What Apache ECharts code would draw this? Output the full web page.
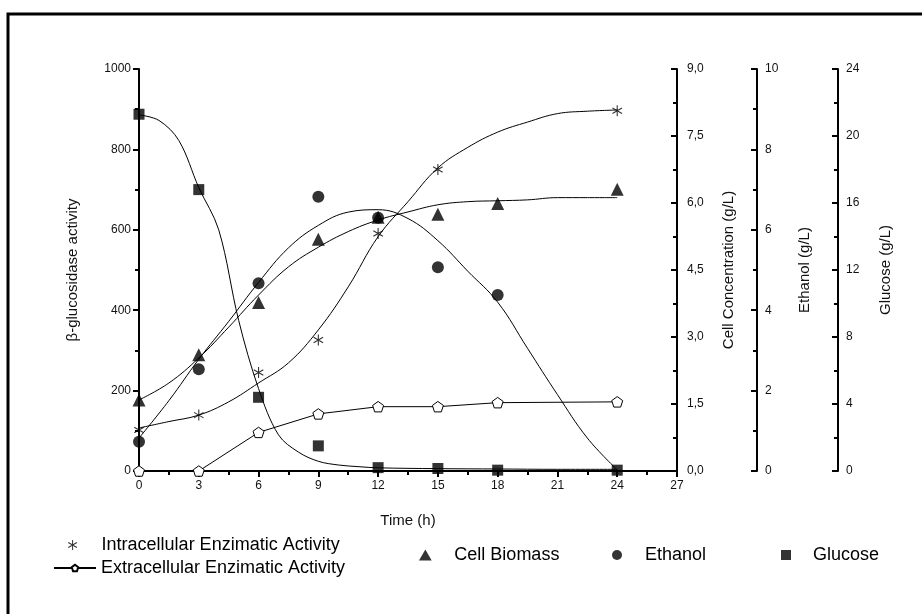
<!DOCTYPE html>
<html>
<head>
<meta charset="utf-8">
<script src="https://cdn.jsdelivr.net/npm/echarts@6/dist/echarts.min.js"></script>
<style>
html,body{margin:0;padding:0;background:#fff;}
#chart{width:922px;height:614px;}
</style>
</head>
<body>
<div id="chart"></div>
<script>
var times = [0, 3, 6, 9, 12, 15, 18, 24];
var intraTimes = [0, 3, 6, 9, 12, 15, 24];
var intracellular = [102, 139, 245, 326, 591, 750, 896];          // beta-glucosidase activity
var extracellular = [0, 0, 96, 142, 160, 160, 170, 172];          // beta-glucosidase activity
var biomass = [1.59, 2.6, 3.77, 5.19, 5.68, 5.75, 5.99, 6.31];    // g/L
var ethanolTimes = [0, 3, 6, 9, 12, 15, 18];
var ethanol = [0.73, 2.53, 4.67, 6.82, 6.3, 5.07, 4.38];          // g/L
var glucose = [21.3, 16.8, 4.4, 1.5, 0.2, 0.15, 0.05, 0.05];      // g/L

// fitted curves drawn in the figure
var fitTimes = [0, 1.5, 3, 4.5, 6, 7.5, 9, 10.5, 12, 13.5, 15, 16.5, 18, 19.5, 21, 22.5, 24];
var intraFit = [107, 123, 139, 172, 219, 269, 351, 458, 583, 670, 754, 805, 843, 868, 889, 895, 898];
var biomassFit = [1.59, 1.97, 2.53, 3.22, 3.94, 4.57, 5.01, 5.36, 5.62, 5.8, 5.96, 6.03, 6.05, 6.07, 6.12, 6.12, 6.12];
var ethanolFit = [0.82, 1.75, 2.78, 3.72, 4.69, 5.55, 6.11, 6.44, 6.5, 6.28, 5.73, 4.97, 4.2, 3.05, 1.9, 0.82, 0.03];
var glucoseFitTimes = [0, 1, 2, 3, 4, 5, 6, 7, 8, 9, 10, 11, 12, 15, 18, 21, 24];
var glucoseFit = [21.26, 20.93, 19.73, 16.92, 14.4, 9.0, 4.92, 2.16, 1.13, 0.58, 0.36, 0.26, 0.19, 0.14, 0.12, 0.1, 0.1];

// axis ticks
var xTicks = {min: 0, max: 27, interval: 3};
var activityTicks = {min: 0, max: 1000, interval: 200};
var cellTicks = {min: 0, max: 9, interval: 1.5};
var ethanolTicks = {min: 0, max: 10, interval: 2};
var glucoseTicks = {min: 0, max: 24, interval: 4};

var names = {
  intra: 'Intracellular Enzimatic Activity',
  extra: 'Extracellular Enzimatic Activity',
  biomass: 'Cell Biomass',
  ethanol: 'Ethanol',
  glucose: 'Glucose'
};

function pairs(t, v) { return t.map(function (x, i) { return [x, v[i]]; }); }

var FONT = 'Liberation Sans, Arial, sans-serif';
var asteriskPath = 'path://M-0.5,-5 L0.5,-5 L0.5,5 L-0.5,5 Z M4.08,-2.933 L4.58,-2.067 L-4.08,2.933 L-4.58,2.067 Z M-4.58,-2.067 L-4.08,-2.933 L4.58,2.067 L4.08,2.933 Z';
var pentagonPath = 'path://M0,-1 L0.951,-0.309 L0.588,0.809 L-0.588,0.809 L-0.951,-0.309 Z';
var triPath = 'path://M0,-1 L1,0.732 L-1,0.732 Z';
var sqPath = 'path://M-1,-1 L1,-1 L1,1 L-1,1 Z';
var circPath = 'path://M-1,0 A1,1 0 1,0 1,0 A1,1 0 1,0 -1,0 Z';

function plainNum(v) { return String(v); }

function yAxisBase(t, extra) {
  var a = {
    type: 'value', min: t.min, max: t.max, interval: t.interval,
    splitLine: {show: false},
    axisLine: {show: true, onZero: false, lineStyle: {color: '#000', width: 2}},
    axisTick: {show: true, length: 6, lineStyle: {color: '#000', width: 2}},
    minorTick: {show: true, splitNumber: 2, length: 4, lineStyle: {color: '#000', width: 2}},
    axisLabel: {color: '#111', fontFamily: FONT, fontSize: 12, margin: 8, formatter: plainNum},
    nameLocation: 'middle', nameRotate: 90,
    nameTextStyle: {color: '#111', fontFamily: FONT, fontSize: 15}
  };
  for (var k in extra) a[k] = extra[k];
  return a;
}

var chart = echarts.init(document.getElementById('chart'), null, {renderer: 'canvas'});
var legendText = {color: '#000', fontFamily: FONT, fontSize: 18};
function leg(name, icon, left, top, w, h) {
  return {data: [{name: name, icon: icon}], left: left, top: top, itemWidth: w, itemHeight: h,
    itemGap: 0, padding: 0, symbolKeepAspect: true, textStyle: legendText, selectedMode: false};
}
var inTick = {show: true, inside: true, length: 6, lineStyle: {color: '#000', width: 2}};

chart.setOption({
  backgroundColor: '#fff',
  animation: false,
  grid: {left: 139, right: 245, top: 69, bottom: 143, containLabel: false},
  graphic: [{
    type: 'rect', silent: true,
    shape: {x: 8, y: 14, width: 1000, height: 700},
    style: {fill: 'none', stroke: '#000', lineWidth: 3}
  }],
  legend: [
    leg(names.intra, asteriskPath, 68, 536, 48, 10),
    {data: [names.extra], left: 53, top: 559, itemWidth: 42, itemHeight: 8, itemGap: 0, padding: 0,
      textStyle: legendText, selectedMode: false},
    leg(names.biomass, triPath, 419, 546, 48, 11),
    leg(names.ethanol, circPath, 612, 546, 46, 10),
    leg(names.glucose, sqPath, 781, 546, 44, 10)
  ],
  xAxis: {
    type: 'value', min: xTicks.min, max: xTicks.max, interval: xTicks.interval,
    name: 'Time (h)', nameLocation: 'middle', nameGap: 42,
    nameTextStyle: {color: '#111', fontFamily: FONT, fontSize: 15},
    splitLine: {show: false},
    axisLine: {show: true, onZero: false, lineStyle: {color: '#000', width: 2}},
    axisTick: {show: true, length: 6, lineStyle: {color: '#000', width: 2}},
    minorTick: {show: true, splitNumber: 2, length: 4, lineStyle: {color: '#000', width: 2}},
    axisLabel: {color: '#111', fontFamily: FONT, fontSize: 12, margin: 9}
  },
  yAxis: [
    yAxisBase(activityTicks, {position: 'left', name: 'β-glucosidase activity', nameGap: 59}),
    yAxisBase(cellTicks, {position: 'right', offset: 0, name: 'Cell Concentration (g/L)', nameGap: 44,
      axisTick: inTick,
      axisLabel: {color: '#111', fontFamily: FONT, fontSize: 12, margin: 10,
        formatter: function (v) { return v.toFixed(1).replace('.', ','); }}}),
    yAxisBase(ethanolTicks, {position: 'right', offset: 80, name: 'Ethanol (g/L)', nameGap: 40,
      axisTick: inTick}),
    yAxisBase(glucoseTicks, {position: 'right', offset: 161, name: 'Glucose (g/L)', nameGap: 40,
      axisTick: inTick})
  ],
  series: [
    // fitted curves
    {type: 'line', yAxisIndex: 0, data: pairs(fitTimes, intraFit), smooth: 0.4, showSymbol: false, symbol: 'none',
      lineStyle: {color: '#000', width: 1}, silent: true, z: 1},
    {type: 'line', yAxisIndex: 1, data: pairs(fitTimes, biomassFit), smooth: 0.4, showSymbol: false, symbol: 'none',
      lineStyle: {color: '#000', width: 1}, silent: true, z: 1},
    {type: 'line', yAxisIndex: 2, data: pairs(fitTimes, ethanolFit), smooth: 0.4, showSymbol: false, symbol: 'none',
      lineStyle: {color: '#000', width: 1}, silent: true, z: 1},
    {type: 'line', yAxisIndex: 3, data: pairs(glucoseFitTimes, glucoseFit), smooth: 0.35, showSymbol: false, symbol: 'none',
      lineStyle: {color: '#000', width: 1}, silent: true, z: 1},
    // measured points
    {name: names.intra, type: 'scatter', yAxisIndex: 0, data: pairs(intraTimes, intracellular),
      symbol: asteriskPath, symbolSize: 11, symbolKeepAspect: true, itemStyle: {color: '#000'}, z: 5},
    {name: names.extra, type: 'line', yAxisIndex: 0, data: pairs(times, extracellular),
      symbol: pentagonPath, symbolSize: 11, showSymbol: true, symbolKeepAspect: true,
      lineStyle: {color: '#000', width: 1},
      itemStyle: {color: '#fff', borderColor: '#000', borderWidth: 1}, z: 5},
    {name: names.biomass, type: 'scatter', yAxisIndex: 1, data: pairs(times, biomass),
      symbol: 'triangle', symbolSize: 13, itemStyle: {color: '#000'}, z: 5},
    {name: names.ethanol, type: 'scatter', yAxisIndex: 2, data: pairs(ethanolTimes, ethanol),
      symbol: 'circle', symbolSize: 12, itemStyle: {color: '#000'}, z: 5},
    {name: names.glucose, type: 'scatter', yAxisIndex: 3, data: pairs(times, glucose),
      symbol: 'rect', symbolSize: 11, itemStyle: {color: '#000'}, z: 5}
  ]
});
</script>
</body>
</html>
